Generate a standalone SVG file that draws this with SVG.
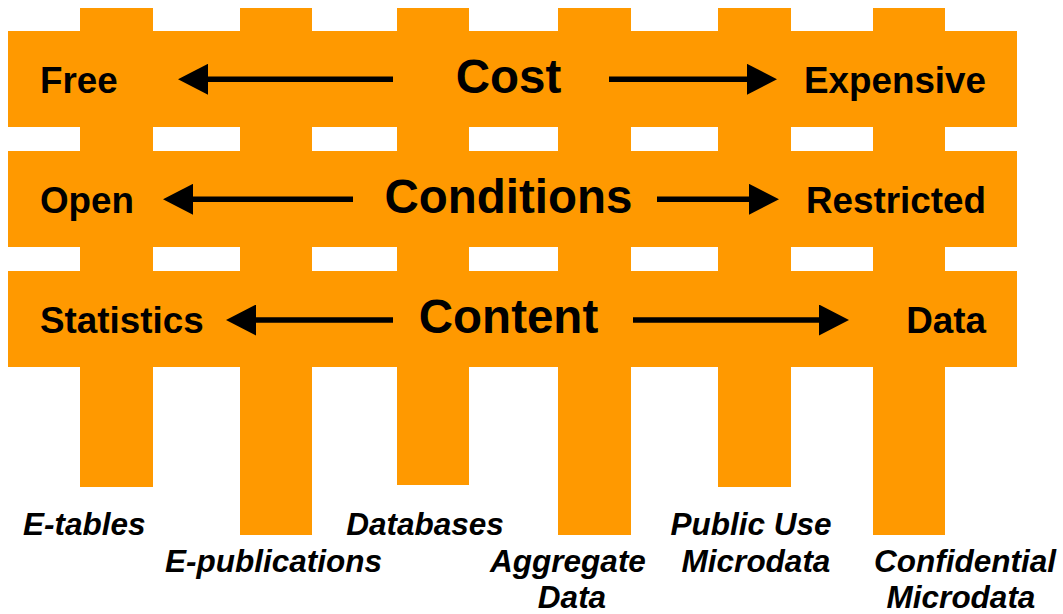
<svg xmlns="http://www.w3.org/2000/svg" width="1063" height="614" viewBox="0 0 1063 614">
  <style>
    .bar { fill: #FF9900; }
    .lbl { font-family: "Liberation Sans", Arial, sans-serif; font-weight: bold; font-size: 36.8px; fill: #000; }
    .title { font-family: "Liberation Sans", Arial, sans-serif; font-weight: bold; font-size: 47.5px; fill: #000; text-anchor: middle; }
    .item { font-family: "Liberation Sans", Arial, sans-serif; font-weight: bold; font-style: italic; font-size: 31.5px; fill: #000; }
    .arrow { stroke: #000; stroke-width: 5.5; fill: none; marker-end: url(#head); }
  </style>
  <defs>
    <marker id="head" viewBox="0 0 30 31" refX="0" refY="15.5" markerWidth="30" markerHeight="31" markerUnits="userSpaceOnUse" orient="auto">
      <path d="M0,0 L30,15.5 L0,31 Z" fill="#000"/>
    </marker>
  </defs>

  <!-- vertical posts -->
  <g id="posts">
    <rect class="bar" x="80" y="8" width="73" height="479"/>
    <rect class="bar" x="240" y="8" width="72" height="527"/>
    <rect class="bar" x="397" y="8" width="72" height="477"/>
    <rect class="bar" x="558" y="8" width="73" height="527"/>
    <rect class="bar" x="718" y="8" width="73" height="479"/>
    <rect class="bar" x="873" y="8" width="72" height="527"/>
  </g>

  <!-- horizontal bands -->
  <g id="cost">
    <rect class="bar" x="8" y="31" width="1009" height="96"/>
    <text class="lbl" x="40" y="93.3">Free</text>
    <text class="title" x="508.5" y="93.3">Cost</text>
    <text class="lbl" x="986" y="93.3" text-anchor="end">Expensive</text>
  </g>
  <g id="conditions">
    <rect class="bar" x="8" y="151" width="1009" height="96"/>
    <text class="lbl" x="40" y="213.3">Open</text>
    <text class="title" x="508.5" y="213.3">Conditions</text>
    <text class="lbl" x="986" y="213.3" text-anchor="end">Restricted</text>
  </g>
  <g id="content">
    <rect class="bar" x="8" y="271" width="1009" height="96"/>
    <text class="lbl" x="40" y="333.3">Statistics</text>
    <text class="title" x="508.5" y="333.3">Content</text>
    <text class="lbl" x="986" y="333.3" text-anchor="end">Data</text>
  </g>

  <!-- connectors -->
  <g id="connectors">
    <line class="arrow" x1="393" y1="79.3" x2="208" y2="79.3"/>
    <line class="arrow" x1="609" y1="79.3" x2="747" y2="79.3"/>
    <line class="arrow" x1="353" y1="199.3" x2="193" y2="199.3"/>
    <line class="arrow" x1="657" y1="199.3" x2="749" y2="199.3"/>
    <line class="arrow" x1="393" y1="320" x2="256" y2="320"/>
    <line class="arrow" x1="633" y1="320" x2="819" y2="320"/>
  </g>

  <!-- product labels -->
  <g id="e-tables"><text class="item" x="23" y="535">E-tables</text></g>
  <g id="e-publications"><text class="item" x="165" y="572">E-publications</text></g>
  <g id="databases"><text class="item" x="425" y="535" text-anchor="middle">Databases</text></g>
  <g id="aggregate-data">
    <text class="item" x="568" y="572" text-anchor="middle">Aggregate</text>
    <text class="item" x="572" y="608" text-anchor="middle">Data</text>
  </g>
  <g id="public-use-microdata">
    <text class="item" x="751" y="535" text-anchor="middle">Public Use</text>
    <text class="item" x="756" y="572" text-anchor="middle">Microdata</text>
  </g>
  <g id="confidential-microdata">
    <text class="item" x="965" y="572" text-anchor="middle">Confidential</text>
    <text class="item" x="961" y="608" text-anchor="middle">Microdata</text>
  </g>
</svg>
